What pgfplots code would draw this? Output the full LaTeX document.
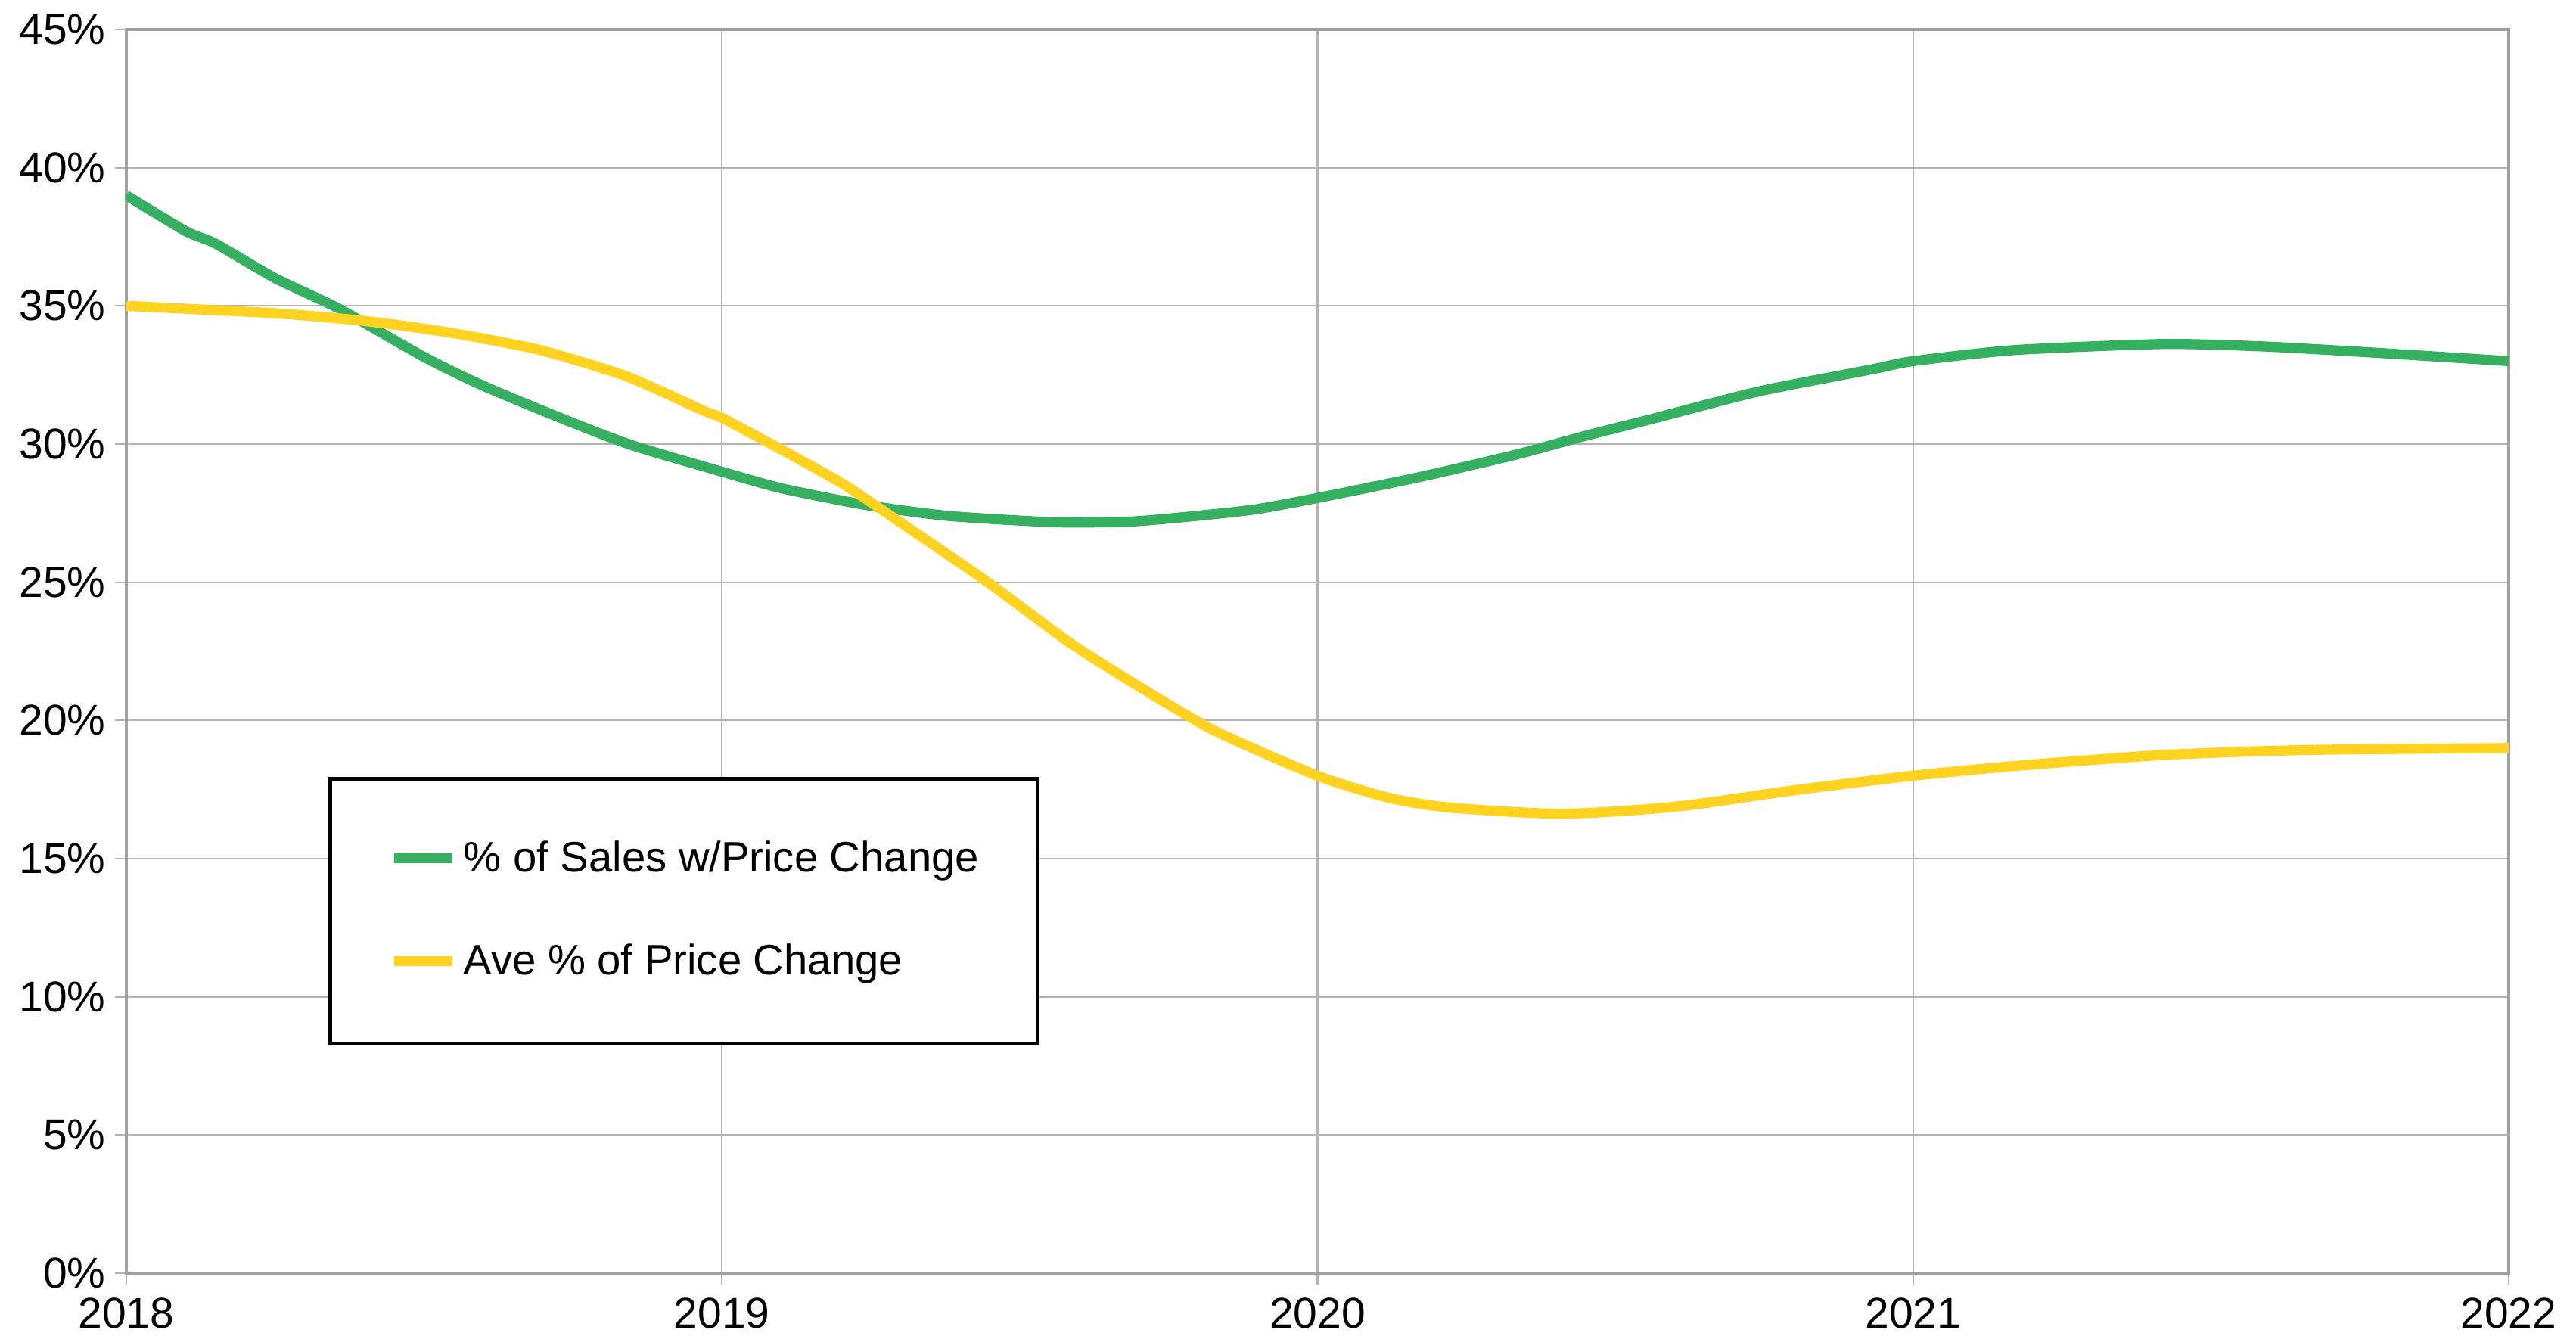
\documentclass[border=0pt]{standalone}
\usepackage{fontspec}
\setmainfont{Liberation Sans}
\usepackage{pgfplots}
\pgfplotsset{compat=1.18}
\definecolor{sgreen}{RGB}{52,176,96}
\definecolor{syellow}{RGB}{255,211,32}
\definecolor{gridgray}{RGB}{179,179,179}
\definecolor{framegray}{RGB}{160,160,160}
\begin{document}
\begin{tikzpicture}
\useasboundingbox (-1.67cm,-0.87cm) rectangle (32.38cm,16.83cm);
\begin{axis}[
  scale only axis,
  width=31.49cm, height=16.44cm,
  xmin=2018, xmax=2022, ymin=0, ymax=45,
  xtick={2018,2019,2020,2021,2022},
  ytick={0,5,10,15,20,25,30,35,40,45},
  grid=major,
  major grid style={draw=gridgray, line width=0.6pt},
  axis line style={draw=framegray, line width=1.2pt},
  tick style={draw=gridgray, line width=0.6pt},
  major tick length=0.15cm,
  tick align=outside,
  tick pos=left,
  /pgf/number format/assume math mode=true,
  /pgf/number format/1000 sep={},
  ticklabel style={font=\fontsize{16.2}{19}\selectfont, text=black},
  yticklabel={\pgfmathprintnumber{\tick}\%},
  yticklabel style={inner xsep=0.12cm},
  xticklabel style={inner ysep=0.17cm},
  legend style={at={(axis description cs:0.0848,0.399)}, anchor=north west,
    draw=black, line width=1.3pt, inner xsep=0.78cm, inner ysep=0.81cm,
    row sep=0.84cm, column sep=0.08cm,
    font=\fontsize{16}{19}\selectfont,
    nodes={text height=0.42cm, text depth=0.1cm, inner sep=0pt}},
  legend cell align=left,
  legend image code/.code={\draw[#1] (-0.05cm,0.02cm) -- (0.72cm,0.02cm);},
]
\addplot[sgreen, line width=3.8pt, smooth, tension=0.4, line join=round] coordinates {
(2018.000,39.0) (2018.100,37.7) (2018.150,37.25) (2018.250,36.0) (2018.357,34.9)
(2018.500,33.15) (2018.600,32.1) (2018.740,30.85) (2018.850,29.95) (2019.000,29.0)
(2019.100,28.4) (2019.240,27.8) (2019.380,27.4) (2019.560,27.17) (2019.690,27.2)
(2019.820,27.45) (2019.900,27.65) (2020.000,28.05) (2020.170,28.8) (2020.330,29.6)
(2020.450,30.3) (2020.560,30.9) (2020.740,31.9) (2020.930,32.7) (2021.000,33.0)
(2021.170,33.4) (2021.420,33.62) (2021.590,33.53) (2021.780,33.3) (2022.000,33.0)
};
\addlegendentry{\% of Sales w/Price Change}
\addplot[syellow, line width=3.8pt, smooth, tension=0.4, line join=round] coordinates {
(2018.000,35.0) (2018.125,34.87) (2018.260,34.72) (2018.380,34.5) (2018.465,34.28)
(2018.560,33.97) (2018.695,33.4) (2018.840,32.45) (2018.970,31.2) (2019.000,30.95)
(2019.100,29.8) (2019.200,28.6) (2019.270,27.6) (2019.440,25.1) (2019.585,22.8)
(2019.710,21.1) (2019.830,19.6) (2020.000,18.0) (2020.120,17.2) (2020.220,16.85)
(2020.400,16.62) (2020.530,16.75) (2020.630,16.95) (2020.810,17.5) (2021.000,18.0)
(2021.170,18.35) (2021.420,18.75) (2021.660,18.93) (2022.000,19.0)
};
\addlegendentry{Ave \% of Price Change}
\end{axis}
\end{tikzpicture}
\end{document}
